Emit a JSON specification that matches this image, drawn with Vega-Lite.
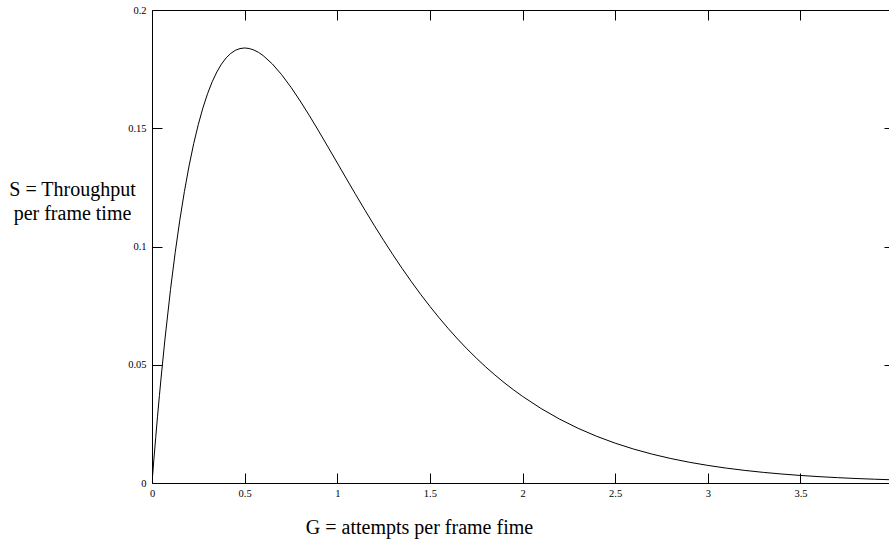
{
  "$schema": "https://vega.github.io/schema/vega-lite/v6.json",
  "autosize": {"type": "none"},
  "width": 737,
  "height": 473,
  "padding": {"left": 152, "top": 10, "right": 0, "bottom": 63},
  "background": "white",
  "config": {
    "view": {"stroke": "#000", "strokeWidth": 1},
    "axis": {
      "domain": false,
      "grid": false,
      "tickColor": "#000",
      "tickWidth": 1,
      "labelColor": "#000",
      "labelFont": "Liberation Serif",
      "labelFontSize": 10.5,
      "titleFont": "Liberation Serif",
      "titleFontSize": 20,
      "titleFontWeight": "normal",
      "titleColor": "#000",
      "labelFlush": false,
      "labelOverlap": false
    }
  },
  "data": {
    "values": [
      {"G": 0, "S": 0},
      {"G": 0.01, "S": 0.009802},
      {"G": 0.02, "S": 0.01922},
      {"G": 0.03, "S": 0.028253},
      {"G": 0.04, "S": 0.036925},
      {"G": 0.05, "S": 0.04524},
      {"G": 0.07, "S": 0.060855},
      {"G": 0.1, "S": 0.08187},
      {"G": 0.125, "S": 0.09735},
      {"G": 0.15, "S": 0.11112},
      {"G": 0.175, "S": 0.12332},
      {"G": 0.2, "S": 0.13406},
      {"G": 0.225, "S": 0.14347},
      {"G": 0.25, "S": 0.15163},
      {"G": 0.275, "S": 0.15866},
      {"G": 0.3, "S": 0.16464},
      {"G": 0.325, "S": 0.16967},
      {"G": 0.35, "S": 0.1738},
      {"G": 0.375, "S": 0.17714},
      {"G": 0.4, "S": 0.17973},
      {"G": 0.425, "S": 0.18165},
      {"G": 0.45, "S": 0.18296},
      {"G": 0.475, "S": 0.1837},
      {"G": 0.5, "S": 0.18394},
      {"G": 0.525, "S": 0.18372},
      {"G": 0.55, "S": 0.18308},
      {"G": 0.575, "S": 0.18207},
      {"G": 0.6, "S": 0.18072},
      {"G": 0.65, "S": 0.17715},
      {"G": 0.7, "S": 0.17262},
      {"G": 0.75, "S": 0.16735},
      {"G": 0.8, "S": 0.16152},
      {"G": 0.85, "S": 0.15528},
      {"G": 0.9, "S": 0.14877},
      {"G": 0.95, "S": 0.14209},
      {"G": 1.0, "S": 0.13534},
      {"G": 1.05, "S": 0.12858},
      {"G": 1.1, "S": 0.12188},
      {"G": 1.15, "S": 0.1153},
      {"G": 1.2, "S": 0.10886},
      {"G": 1.25, "S": 0.10261},
      {"G": 1.3, "S": 0.09656},
      {"G": 1.35, "S": 0.09073},
      {"G": 1.4, "S": 0.08513},
      {"G": 1.45, "S": 0.07978},
      {"G": 1.5, "S": 0.07468},
      {"G": 1.55, "S": 0.06983},
      {"G": 1.6, "S": 0.06522},
      {"G": 1.65, "S": 0.06086},
      {"G": 1.7, "S": 0.05673},
      {"G": 1.75, "S": 0.05285},
      {"G": 1.8, "S": 0.04918},
      {"G": 1.85, "S": 0.04574},
      {"G": 1.9, "S": 0.0425},
      {"G": 1.95, "S": 0.03947},
      {"G": 2.0, "S": 0.03663},
      {"G": 2.1, "S": 0.03149},
      {"G": 2.2, "S": 0.02701},
      {"G": 2.3, "S": 0.02312},
      {"G": 2.4, "S": 0.01975},
      {"G": 2.5, "S": 0.01684},
      {"G": 2.6, "S": 0.01434},
      {"G": 2.7, "S": 0.01219},
      {"G": 2.8, "S": 0.01035},
      {"G": 2.9, "S": 0.00878},
      {"G": 3.0, "S": 0.00744},
      {"G": 3.1, "S": 0.00629},
      {"G": 3.2, "S": 0.00532},
      {"G": 3.3, "S": 0.00449},
      {"G": 3.4, "S": 0.00379},
      {"G": 3.5, "S": 0.00319},
      {"G": 3.6, "S": 0.00269},
      {"G": 3.7, "S": 0.00226},
      {"G": 3.8, "S": 0.0019},
      {"G": 3.9, "S": 0.0016},
      {"G": 4.0, "S": 0.00134}
    ]
  },
  "layer": [
    {
      "mark": {"type": "line", "color": "#000", "strokeWidth": 1, "clip": true},
      "encoding": {
        "x": {
          "field": "G", "type": "quantitative",
          "scale": {"domain": [0, 3.978], "nice": false, "zero": false},
          "axis": {
            "orient": "bottom",
            "offset": -10,
            "tickSize": 10,
            "labelPadding": 5,
            "values": [0, 0.5, 1, 1.5, 2, 2.5, 3, 3.5],
            "format": "~g",
            "title": "G = attempts per frame fime",
            "titleX": 267,
            "titleY": 60,
            "titleAlign": "center",
            "titleBaseline": "alphabetic",
            "titleAnchor": null
          }
        },
        "y": {
          "field": "S", "type": "quantitative",
          "scale": {"domain": [0, 0.2], "nice": false},
          "axis": {
            "orient": "left",
            "offset": -10,
            "tickSize": 10,
            "labelPadding": 6,
            "values": [0, 0.05, 0.1, 0.15, 0.2],
            "format": "~g",
            "title": ["S = Throughput", "per frame time"],
            "titleAngle": 0,
            "titleX": -90,
            "titleY": 185,
            "titleAlign": "center",
            "titleBaseline": "alphabetic",
            "titleLineHeight": 24,
            "titleAnchor": null
          }
        }
      }
    },
    {
      "mark": {"type": "line", "opacity": 0, "clip": true},
      "encoding": {
        "x": {
          "field": "G", "type": "quantitative",
          "axis": {
            "orient": "top",
            "offset": -10,
            "tickSize": 10,
            "labels": false,
            "values": [0, 0.5, 1, 1.5, 2, 2.5, 3, 3.5],
            "title": null
          }
        },
        "y": {
          "field": "S", "type": "quantitative",
          "axis": {
            "orient": "right",
            "offset": -5,
            "tickSize": 5,
            "labels": false,
            "values": [0, 0.05, 0.1, 0.15, 0.2],
            "title": null
          }
        }
      }
    }
  ],
  "resolve": {"axis": {"x": "independent", "y": "independent"}}
}
